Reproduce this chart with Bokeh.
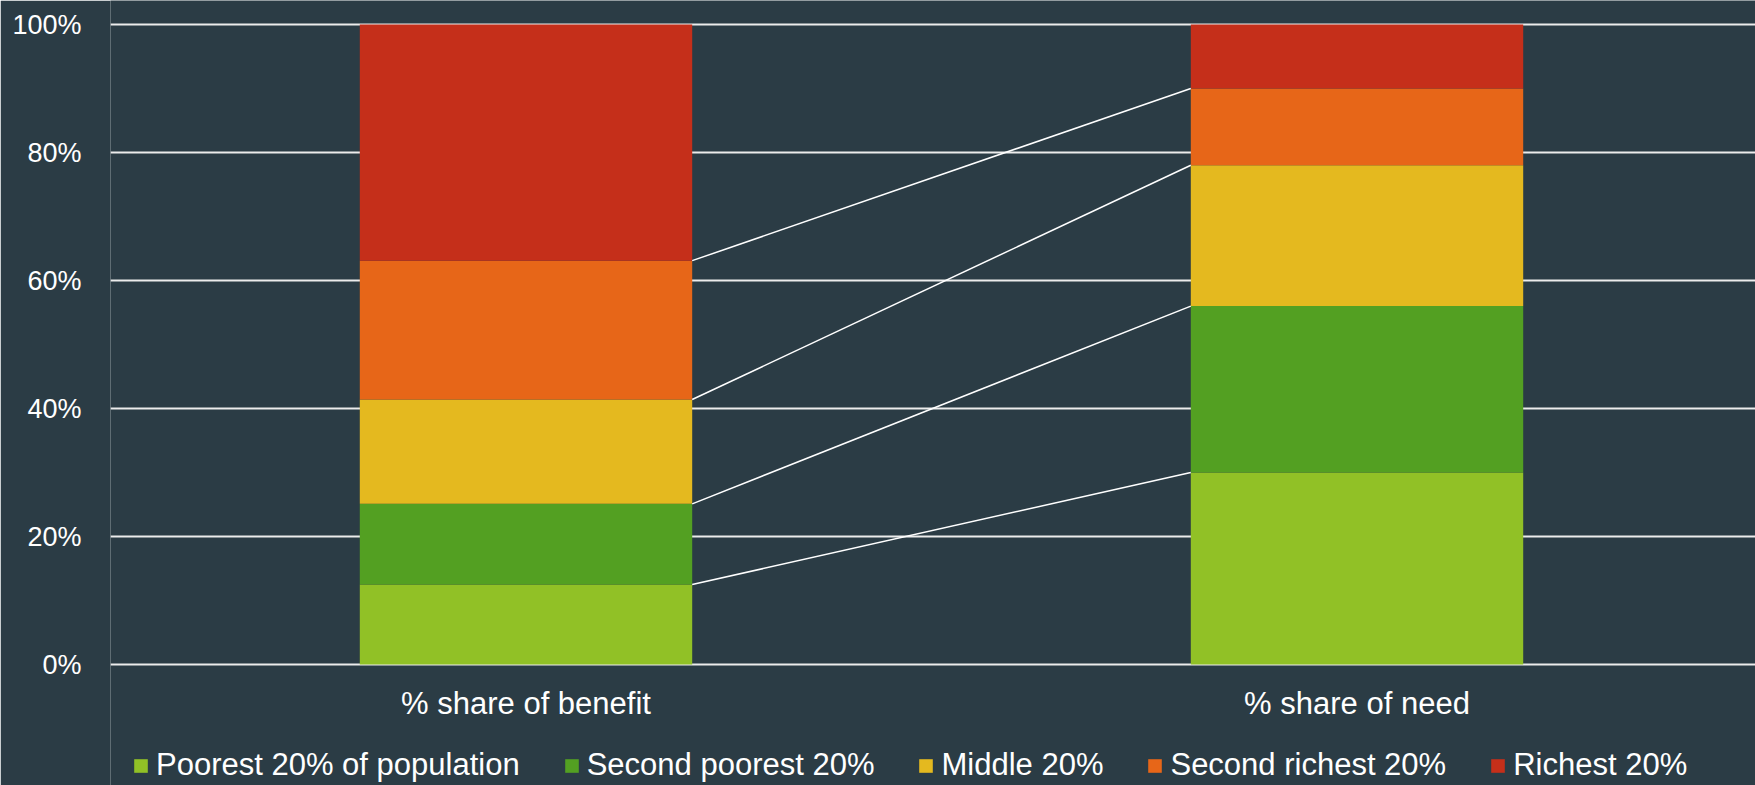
import numpy as np
from bokeh.plotting import figure
from bokeh.models import (ColumnDataSource, Range1d, FixedTicker, Legend, LegendItem,
                          PrintfTickFormatter)
from bokeh.core.properties import value
from bokeh.embed import file_html
from bokeh.resources import INLINE

categories = ["% share of benefit", "% share of need"]
groups = ["Poorest 20% of population", "Second poorest 20%", "Middle 20%",
          "Second richest 20%", "Richest 20%"]
benefit = [12.5, 12.6, 16.3, 21.7, 36.9]
need = [30.0, 26.0, 22.0, 12.0, 10.0]
colors = ["#91C126", "#53A022", "#E4B91F", "#E76618", "#C52F1A"]
y_ticks = [0, 20, 40, 60, 80, 100]

BG = "#2B3C45"
FONT = "Liberation Sans"
BAR_W = 0.4

# layout (pixels): frame covers the canvas height; 0% at 664px, 100% at 24px
PX_PER_UNIT = 640 / 100
Y_END = 100 + 24 / PX_PER_UNIT
Y_START = -(785 - 664) / PX_PER_UNIT

xs = [i + 0.5 for i in range(len(categories))]
data = {"x": xs}
for i, g in enumerate(groups):
    data[g] = [benefit[i], need[i]]
source = ColumnDataSource(data=data)

p = figure(width=1755, height=785, output_backend="svg", toolbar_location=None,
           x_range=Range1d(0, 1645 / 831), y_range=Range1d(Y_START, Y_END),
           background_fill_color=BG, border_fill_color=BG, outline_line_color=None,
           min_border_left=110, min_border_right=0, min_border_top=0, min_border_bottom=0)

renderers = p.vbar_stack(groups, x="x", width=BAR_W, color=colors, source=source,
                         line_color=None)

# connector lines between cumulative boundaries
cb = np.cumsum(benefit)[:-1]
cn = np.cumsum(need)[:-1]
p.segment(x0=[xs[0] + BAR_W / 2] * len(cb), y0=list(cb),
          x1=[xs[1] - BAR_W / 2] * len(cn), y1=list(cn),
          line_color="white", line_width=1.5)

# category labels under the bars
p.text(x=xs, y=[0] * len(xs), text=categories, text_align="center",
       text_baseline="middle", y_offset=39, text_font=value(FONT),
       text_font_size="31px", text_color="#FFFFFF")

# grid
p.xgrid.grid_line_color = None
p.ygrid.ticker = FixedTicker(ticks=y_ticks)
p.ygrid.grid_line_color = "#ECECEC"
p.ygrid.grid_line_width = 2

# y axis
p.yaxis.ticker = FixedTicker(ticks=y_ticks)
p.yaxis.formatter = PrintfTickFormatter(format="%d%%")
p.yaxis.axis_line_color = None
p.yaxis.major_tick_line_color = None
p.yaxis.minor_tick_line_color = None
p.yaxis.major_tick_out = 0
p.yaxis.major_label_standoff = 29
p.yaxis.major_label_text_font = FONT
p.yaxis.major_label_text_font_size = "27px"
p.yaxis.major_label_text_color = "#FFFFFF"

p.xaxis.visible = False

legend = Legend(items=[LegendItem(label=g, renderers=[r]) for g, r in zip(groups, renderers)],
                orientation="horizontal", location=(22, 2),
                glyph_width=17, glyph_height=17, label_standoff=7, spacing=43,
                label_text_font=FONT, label_text_font_size="31px",
                label_text_color="#FFFFFF", background_fill_alpha=0,
                border_line_alpha=0, padding=0, margin=0)
p.add_layout(legend, "center")

open("out.html", "w").write(file_html(p, INLINE))
